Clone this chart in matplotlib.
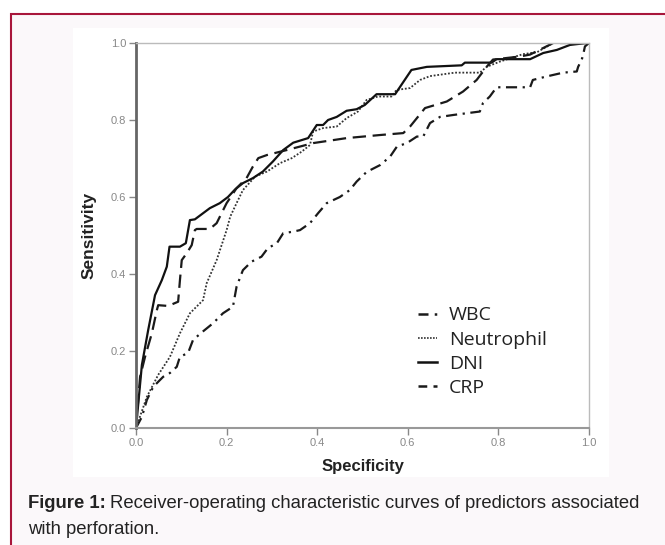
import matplotlib
matplotlib.use("Agg")
import matplotlib.pyplot as plt
from matplotlib.patches import Rectangle
from matplotlib.lines import Line2D

plt.rcParams["font.family"] = ["Liberation Sans", "DejaVu Sans"]

# ROC curve points (specificity axis, sensitivity)
wbc_x = [0.0, 0.013, 0.024, 0.038, 0.06, 0.075, 0.09, 0.097, 0.115, 0.126, 0.148, 0.17,
         0.192, 0.214, 0.222, 0.236, 0.255, 0.277, 0.291, 0.311, 0.325, 0.347, 0.362,
         0.384, 0.402, 0.421, 0.45, 0.472, 0.487, 0.509, 0.539, 0.561, 0.576, 0.598,
         0.62, 0.634, 0.649, 0.671, 0.70, 0.759, 0.766, 0.781, 0.796, 0.87, 0.876,
         0.906, 0.943, 0.973, 0.976, 0.984, 0.987, 0.991, 1.0]
wbc_y = [0.0, 0.029, 0.073, 0.107, 0.133, 0.143, 0.159, 0.185, 0.195, 0.229, 0.251, 0.272,
         0.298, 0.315, 0.367, 0.41, 0.432, 0.445, 0.467, 0.48, 0.506, 0.51, 0.514,
         0.532, 0.558, 0.584, 0.60, 0.618, 0.64, 0.665, 0.683, 0.705, 0.731, 0.740,
         0.757, 0.757, 0.792, 0.808, 0.813, 0.822, 0.844, 0.861, 0.885, 0.885, 0.904,
         0.913, 0.923, 0.926, 0.938, 0.957, 0.969, 0.991, 1.0]

neu_x = [0.0, 0.024, 0.049, 0.075, 0.097, 0.119, 0.148, 0.156, 0.178, 0.189, 0.20,
         0.208, 0.222, 0.236, 0.263, 0.289, 0.318, 0.344, 0.366, 0.384, 0.391, 0.413,
         0.443, 0.465, 0.49, 0.509, 0.534, 0.564, 0.575, 0.605, 0.627, 0.649, 0.704,
         0.759, 0.774, 0.804, 0.854, 0.885, 0.921, 1.0]
neu_y = [0.0, 0.081, 0.138, 0.185, 0.246, 0.298, 0.332, 0.376, 0.436, 0.475, 0.514,
         0.549, 0.584, 0.618, 0.653, 0.666, 0.688, 0.701, 0.718, 0.735, 0.770, 0.779,
         0.783, 0.805, 0.822, 0.852, 0.861, 0.861, 0.878, 0.883, 0.904, 0.914, 0.923,
         0.923, 0.938, 0.952, 0.971, 0.976, 1.0, 1.0]

dni_x = [0.0, 0.013, 0.027, 0.042, 0.057, 0.068, 0.074, 0.097, 0.11, 0.119, 0.13,
         0.163, 0.185, 0.203, 0.219, 0.236, 0.258, 0.28, 0.302, 0.325, 0.347, 0.38,
         0.399, 0.413, 0.424, 0.443, 0.465, 0.487, 0.505, 0.531, 0.572, 0.608, 0.642,
         0.719, 0.726, 0.785, 0.796, 0.87, 0.899, 0.929, 0.958, 0.995, 1.0]
dni_y = [0.0, 0.164, 0.255, 0.345, 0.384, 0.419, 0.471, 0.471, 0.48, 0.54, 0.542,
         0.571, 0.584, 0.60, 0.62, 0.636, 0.649, 0.666, 0.692, 0.722, 0.741, 0.753,
         0.787, 0.787, 0.80, 0.808, 0.824, 0.828, 0.839, 0.867, 0.867, 0.930, 0.938,
         0.942, 0.949, 0.949, 0.958, 0.958, 0.974, 0.982, 0.995, 1.0, 1.0]

crp_x = [0.0, 0.009, 0.02, 0.035, 0.046, 0.049, 0.071, 0.093, 0.097, 0.101, 0.112,
         0.123, 0.13, 0.134, 0.163, 0.178, 0.20, 0.222, 0.244, 0.258, 0.27, 0.289,
         0.333, 0.391, 0.465, 0.539, 0.59, 0.605, 0.638, 0.686, 0.722, 0.752, 0.774,
         0.788, 0.848, 0.87, 0.899, 0.921, 1.0]
crp_y = [0.0, 0.133, 0.185, 0.246, 0.306, 0.319, 0.317, 0.328, 0.384, 0.436, 0.454,
         0.475, 0.514, 0.517, 0.517, 0.532, 0.584, 0.623, 0.649, 0.679, 0.701, 0.709,
         0.722, 0.740, 0.753, 0.761, 0.766, 0.783, 0.831, 0.848, 0.874, 0.904, 0.938,
         0.957, 0.965, 0.97, 0.987, 1.0, 1.0]

labels = ["WBC", "Neutrophil", "DNI", "CRP"]
ticks = [0.0, 0.2, 0.4, 0.6, 0.8, 1.0]
tick_labels = ["0.0", "0.2", "0.4", "0.6", "0.8", "1.0"]

W, H = 665, 545
fig = plt.figure(figsize=(W / 100, H / 100), dpi=100)
fig.patch.set_facecolor("white")

# page background + crimson frame
fig.patches.append(Rectangle((11 / W, -0.05), 1.1, 1 - 14 / H + 0.05, transform=fig.transFigure,
                             facecolor="#fbf8fa", edgecolor="#a8163b", linewidth=1.5, zorder=0))
# white chart panel
fig.patches.append(Rectangle((73 / W, 1 - 477 / H), (609 - 73) / W, (477 - 28) / H,
                             transform=fig.transFigure, facecolor="white", edgecolor="none", zorder=1))

ax = fig.add_axes([136 / W, 1 - 428 / H, (589 - 136) / W, (428 - 43) / H])
ax.set_facecolor("white")
ax.set_zorder(2)

ax.plot(wbc_x, wbc_y, color="#1a1a1a", lw=1.6, linestyle=(0, (5, 2.5, 1, 2.5)))
ax.plot(neu_x, neu_y, color="#333333", lw=1.3, linestyle=(0, (1, 1)))
ax.plot(dni_x, dni_y, color="#111111", lw=1.6, linestyle="-")
ax.plot(crp_x, crp_y, color="#1a1a1a", lw=1.6, linestyle=(0, (6, 3)))

ax.set_xlim(0, 1)
ax.set_ylim(0, 1)
ax.set_xticks(ticks)
ax.set_xticklabels(tick_labels)
ax.set_yticks(ticks)
ax.set_yticklabels(tick_labels)
ax.tick_params(direction="out", length=5, width=1, colors="#888888", labelsize=8, pad=2)

ax.spines["left"].set_color("#666666")
ax.spines["left"].set_linewidth(2)
ax.spines["bottom"].set_color("#999999")
ax.spines["bottom"].set_linewidth(1.5)
for s in ["top", "right"]:
    ax.spines[s].set_color("#bbbbbb")
    ax.spines[s].set_linewidth(1)

ax.set_xlabel("Specificity", fontsize=12, fontweight="bold", color="#222222", labelpad=8)
ax.set_ylabel("Sensitivity", fontsize=12.5, fontweight="bold", color="#222222", labelpad=10)

# legend swatches with compact dash patterns like the original key
handles = [
    Line2D([], [], color="#1a1a1a", lw=1.8, linestyle=(0, (4, 2.5, 1, 2))),
    Line2D([], [], color="#333333", lw=1.2, linestyle=(0, (1, 0.8))),
    Line2D([], [], color="#111111", lw=1.8, linestyle="-"),
    Line2D([], [], color="#1a1a1a", lw=1.8, linestyle=(0, (3.5, 2.5))),
]
leg = ax.legend(handles, labels, loc="lower left", bbox_to_anchor=(0.6, 0.055), frameon=False,
                prop={"family": "Open Sans", "size": 14}, handlelength=1.0,
                handletextpad=0.6, labelspacing=0.32, borderpad=0)
for t in leg.get_texts():
    t.set_color("#222222")

# caption with bold prefix
fs = 13.3
t1 = fig.text(28 / W, 1 - 503 / H, "Figure 1:", fontsize=fs, fontweight="bold",
              va="center", ha="left", color="#222222")
fig.canvas.draw()
bb = t1.get_window_extent()
fig.text((bb.x1 + 4) / W, 1 - 503 / H, "Receiver-operating characteristic curves of predictors associated",
         fontsize=fs, va="center", ha="left", color="#222222")
fig.text(28 / W, 1 - 529 / H, "with perforation.", fontsize=fs, va="center", ha="left", color="#222222")

fig.savefig("out.png", dpi=100)
